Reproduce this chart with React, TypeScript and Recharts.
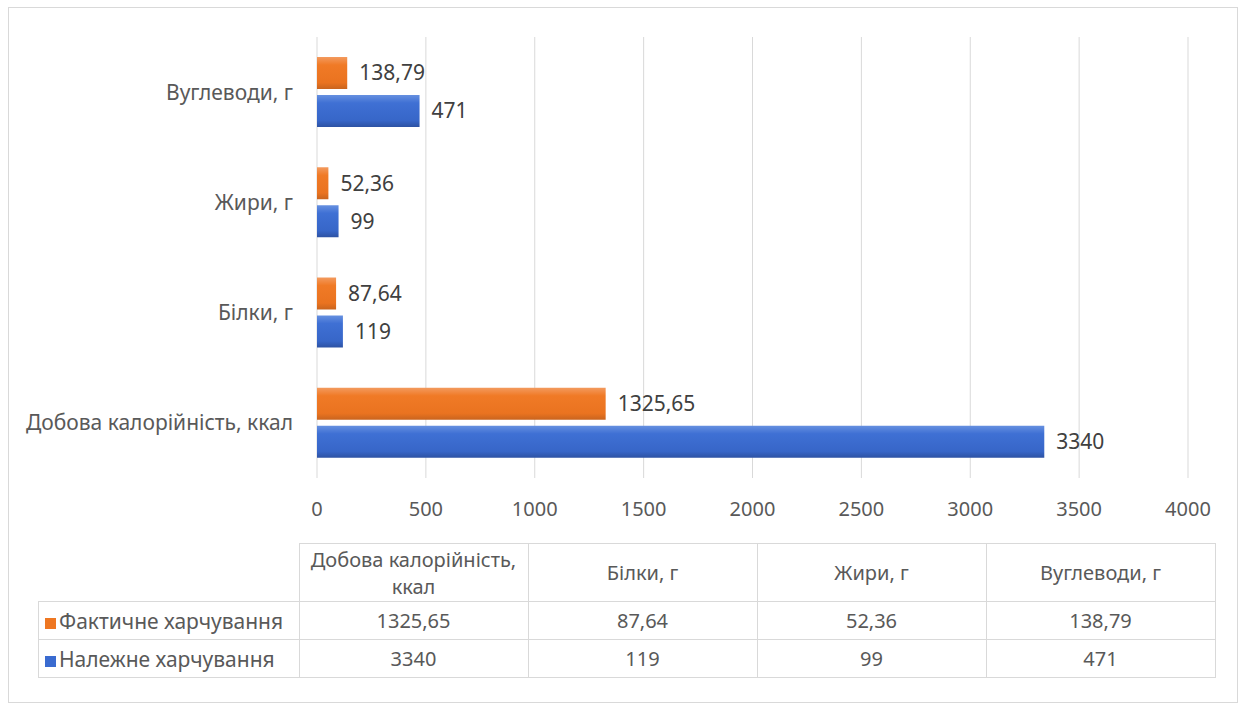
import { BarChart, Bar, XAxis, YAxis, CartesianGrid, LabelList } from 'recharts';

const categories = ["Вуглеводи, г", "Жири, г", "Білки, г", "Добова калорійність, ккал"];
const actual = [138.79, 52.36, 87.64, 1325.65];
const norm = [471, 99, 119, 3340];
const xTicks = [0, 500, 1000, 1500, 2000, 2500, 3000, 3500, 4000];

// table columns go in the opposite order to the chart rows
const tableCols = ["Добова калорійність,\nккал", "Білки, г", "Жири, г", "Вуглеводи, г"];
const tableOrder = [3, 2, 1, 0];

const FONT = '"Noto Sans", sans-serif';
const TEXT = "#595959";
const BORDER = "#d9d9d9";

const data = categories.map((c, i) => ({ name: c, actual: actual[i], norm: norm[i] }));

const fmt = (v: any) => String(v).replace('.', ',');

export default function App() {
  const cell: React.CSSProperties = {
    border: `1px solid ${BORDER}`,
    textAlign: 'center',
    padding: 0,
    fontSize: 20,
    color: TEXT,
  };
  const series = [
    { label: "Фактичне харчування", color: "#ee7722", values: actual },
    { label: "Належне харчування", color: "#3a6bd0", values: norm },
  ];
  return (
    <div style={{ position: 'relative', width: 1241, height: 706, background: '#fff', fontFamily: FONT }}>
      <style>{`body{margin:0}`}</style>
      <div style={{ position: 'absolute', left: 8, top: 7, width: 1228, height: 694, border: `1px solid ${BORDER}` }} />
      <div style={{ position: 'absolute', left: 0, top: 0 }}>
        <BarChart
          width={1241}
          height={530}
          data={data}
          layout="vertical"
          margin={{ top: 37, right: 53, bottom: 0, left: 0 }}
          barSize={32}
          barGap={6}
        >
          <defs>
            <linearGradient id="gOrange" x1="0" y1="0" x2="0" y2="1">
              <stop offset="0%" stopColor="#f39a5e" />
              <stop offset="25%" stopColor="#f07a26" />
              <stop offset="80%" stopColor="#ea7320" />
              <stop offset="100%" stopColor="#c9641e" />
            </linearGradient>
            <linearGradient id="gBlue" x1="0" y1="0" x2="0" y2="1">
              <stop offset="0%" stopColor="#6690e0" />
              <stop offset="25%" stopColor="#3f70d4" />
              <stop offset="80%" stopColor="#3766c8" />
              <stop offset="100%" stopColor="#2d52a3" />
            </linearGradient>
          </defs>
          <CartesianGrid horizontal={false} stroke={BORDER} />
          <XAxis
            type="number"
            domain={[0, 4000]}
            ticks={xTicks}
            interval={0}
            axisLine={false}
            tickLine={false}
            tickMargin={18}
            height={52}
            tick={{ fill: TEXT, fontSize: 20, fontFamily: FONT }}
          />
          <YAxis
            type="category"
            dataKey="name"
            width={317}
            axisLine={false}
            tickLine={false}
            tickMargin={18}
            tick={{ fill: TEXT, fontSize: 21, fontFamily: FONT }}
          />
          <Bar dataKey="actual" fill="url(#gOrange)" isAnimationActive={false}>
            <LabelList dataKey="actual" position="right" offset={12} formatter={fmt}
              style={{ fill: '#404040', fontSize: 21, fontFamily: FONT }} />
          </Bar>
          <Bar dataKey="norm" fill="url(#gBlue)" isAnimationActive={false}>
            <LabelList dataKey="norm" position="right" offset={12} formatter={fmt}
              style={{ fill: '#404040', fontSize: 21, fontFamily: FONT }} />
          </Bar>
        </BarChart>
      </div>
      <table style={{ position: 'absolute', left: 38, top: 543, borderCollapse: 'collapse', fontFamily: FONT, tableLayout: 'fixed' }}>
        <tbody>
          <tr style={{ height: 58 }}>
            <td style={{ width: 260, padding: 0 }} />
            {tableCols.map((c) => (
              <td key={c} style={{ ...cell, width: 228, whiteSpace: 'pre-line', lineHeight: '27px' }}>{c}</td>
            ))}
          </tr>
          {series.map((s) => (
            <tr key={s.label} style={{ height: 38 }}>
              <td style={{ ...cell, textAlign: 'left', paddingLeft: 6, fontSize: 21, whiteSpace: 'nowrap' }}>
                <span style={{ display: 'inline-block', width: 11, height: 11, background: s.color, marginRight: 3 }} />
                {s.label}
              </td>
              {tableOrder.map((idx) => (
                <td key={idx} style={cell}>{fmt(s.values[idx])}</td>
              ))}
            </tr>
          ))}
        </tbody>
      </table>
    </div>
  );
}
